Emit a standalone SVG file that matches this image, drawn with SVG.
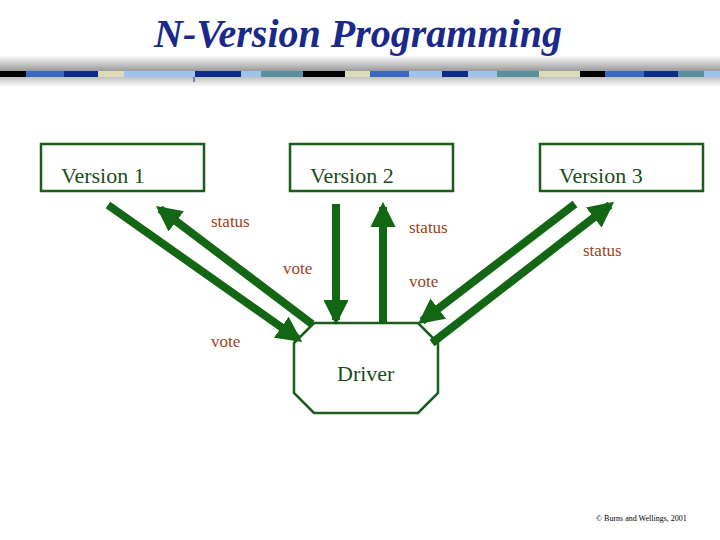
<svg xmlns="http://www.w3.org/2000/svg" width="720" height="540" viewBox="0 0 720 540">
<style>
.box{fill:#fff;stroke:#1a5c1a;stroke-width:2.5}
.bt{font-family:"Liberation Serif",serif;font-size:22px;fill:#1a4d1a}
.lb{font-family:"Liberation Serif",serif;font-size:17px;fill:#a0401a}
.ar{stroke:#136613;stroke-width:8;fill:none;marker-end:url(#h)}
</style>
<defs>
<marker id="h" viewBox="0 0 10 10" refX="8" refY="5" markerWidth="3.2" markerHeight="3.2" orient="auto" markerUnits="strokeWidth"><path d="M0,0L10,5L0,10z" fill="#136613"/></marker>
<linearGradient id="g" x1="0" y1="0" x2="0" y2="1"><stop offset="0" stop-color="#fff"/><stop offset="0.5" stop-color="#9a9a9a"/><stop offset="1" stop-color="#fff"/></linearGradient>
</defs>
<rect width="720" height="540" fill="#fff"/>
<rect x="0" y="55" width="720" height="32" fill="url(#g)"/>
<g id="bar">
<rect x="0" y="71" width="26" height="6" fill="#000"/><rect x="26" y="71" width="38" height="6" fill="#3a68c0"/><rect x="64" y="71" width="34" height="6" fill="#0d2d8a"/><rect x="98" y="71" width="26" height="6" fill="#dcdcb8"/><rect x="124" y="71" width="71" height="6" fill="#9ec4ee"/><rect x="195" y="71" width="46" height="6" fill="#0d2d8a"/><rect x="241" y="71" width="20" height="6" fill="#9ec4ee"/><rect x="261" y="71" width="42" height="6" fill="#5a8fa0"/><rect x="303" y="71" width="42" height="6" fill="#000"/><rect x="345" y="71" width="25" height="6" fill="#dcdcb8"/><rect x="370" y="71" width="39" height="6" fill="#3a68c0"/><rect x="409" y="71" width="33" height="6" fill="#9ec4ee"/><rect x="442" y="71" width="26" height="6" fill="#0d2d8a"/><rect x="468" y="71" width="29" height="6" fill="#9ec4ee"/><rect x="497" y="71" width="42" height="6" fill="#5a8fa0"/><rect x="539" y="71" width="41" height="6" fill="#dcdcb8"/><rect x="580" y="71" width="25" height="6" fill="#000"/><rect x="605" y="71" width="39" height="6" fill="#3a68c0"/><rect x="644" y="71" width="34" height="6" fill="#0d2d8a"/><rect x="678" y="71" width="26" height="6" fill="#5a8fa0"/><rect x="704" y="71" width="16" height="6" fill="#9ec4ee"/>
<line x1="194" y1="77" x2="194" y2="82" stroke="#0d2d8a" stroke-width="1"/>
</g>
<text x="358" y="47" text-anchor="middle" font-family="Liberation Serif,serif" font-size="40" font-weight="bold" font-style="italic" fill="#1a2a8a">N-Version Programming</text>
<g id="v1"><rect class="box" x="41" y="144" width="163" height="47"/><text class="bt" x="61" y="183">Version 1</text></g>
<g id="v2"><rect class="box" x="290" y="144" width="163" height="47"/><text class="bt" x="310" y="183">Version 2</text></g>
<g id="v3"><rect class="box" x="540" y="144" width="163" height="47"/><text class="bt" x="559" y="183">Version 3</text></g>
<g id="driver"><polygon class="box" points="314,323 418,323 438,343 438,393 418,413 314,413 294,393 294,343"/><text class="bt" x="337" y="381">Driver</text></g>
<g id="connectors">
<line class="ar" x1="108" y1="205" x2="298" y2="339"/>
<line class="ar" x1="312" y1="324" x2="160" y2="209"/>
<line class="ar" x1="336" y1="204" x2="336" y2="320"/>
<line class="ar" x1="383" y1="323" x2="383" y2="207"/>
<line class="ar" x1="575" y1="204" x2="422" y2="321"/>
<line class="ar" x1="432" y1="343" x2="610" y2="205"/>
<text class="lb" x="211" y="227">status</text>
<text class="lb" x="409" y="233">status</text>
<text class="lb" x="583" y="256">status</text>
<text class="lb" x="283" y="274">vote</text>
<text class="lb" x="409" y="287">vote</text>
<text class="lb" x="211" y="347">vote</text>
</g>
<text x="596" y="521" font-family="Liberation Serif,serif" font-size="8" fill="#000">© Burns and Wellings, 2001</text>
</svg>
